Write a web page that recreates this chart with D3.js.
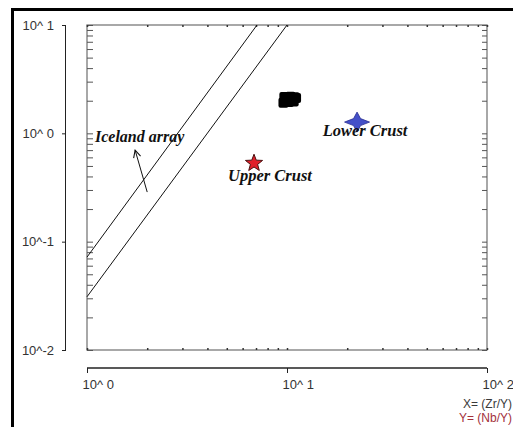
<!DOCTYPE html>
<html>
<head>
<meta charset="utf-8">
<script src="https://cdn.jsdelivr.net/npm/d3@7"></script>
<style>
  html, body { margin: 0; padding: 0; background: #fff; overflow: hidden; }
  svg { display: block; }
</style>
</head>
<body>
<svg id="chart" width="513" height="427"></svg>
<script>
// Nb/Y vs Zr/Y discrimination diagram (log-log)
const xTickValues = [1, 10, 100];
const xTickLabels = ["10^ 0", "10^ 1", "10^ 2"];
const yTickValues = [0.01, 0.1, 1, 10];
const yTickLabels = ["10^-2", "10^-1", "10^ 0", "10^ 1"];

// Boundaries of the Iceland array: [Zr/Y, Nb/Y] end points
const icelandUpper = [[1, 0.072], [7.08, 10]];
const icelandLower = [[1, 0.031], [10, 10]];

// Arrow pointing at the array label: [Zr/Y, Nb/Y]
const icelandArrow = [[2.0, 0.287], [1.74, 0.70]];
const icelandLabel = { text: "Iceland array", zr_y: 1.096, nb_y: 0.83 };

// Sample compositions [Zr/Y, Nb/Y]
const samplesZrY = [9.6, 9.8, 10.0, 10.2, 10.4, 10.6, 10.9, 11.1, 9.7, 10.3, 10.8];
const samplesNbY = [1.92, 2.05, 2.12, 1.95, 2.18, 2.02, 2.15, 2.12, 2.16, 2.08, 1.97];

// Crustal reference compositions
const crustNames = ["Upper Crust", "Lower Crust"];
const crustZrY = [6.84, 22.4];
const crustNbY = [0.53, 1.27];

const svg = d3.select("#chart");

const x = d3.scaleLog().domain([1, 100]).range([87, 487]);
const y = d3.scaleLog().domain([0.01, 10]).range([350, 25]);

// outer frame (top and left heavy rules)
svg.append("rect").attr("x", 11).attr("y", 8).attr("width", 502).attr("height", 3).attr("fill", "#000");
svg.append("rect").attr("x", 11).attr("y", 8).attr("width", 3).attr("height", 419).attr("fill", "#000");

// minor tick values
const minor = [];
for (const d of [1, 10]) for (let k = 1; k <= 9; k++) minor.push(d * k);
minor.push(100);
const minorY = [];
for (const d of [0.01, 0.1, 1]) for (let k = 1; k <= 9; k++) minorY.push(d * k);
minorY.push(10);

const plot = svg.append("g");

// plot box
plot.append("rect")
  .attr("x", x(1)).attr("y", y(10))
  .attr("width", x(100) - x(1)).attr("height", y(0.01) - y(10))
  .attr("fill", "none").attr("stroke", "#7a7a7a").attr("stroke-width", 1.3);

// inward ticks on the left and right of the box
plot.append("g").call(d3.axisRight(y).tickValues(minorY).tickSize(6).tickFormat(""))
  .attr("transform", `translate(${x(1)},0)`)
  .call(g => g.select(".domain").remove())
  .call(g => g.selectAll("line").attr("stroke", "#555"));
plot.append("g").call(d3.axisLeft(y).tickValues(minorY).tickSize(5).tickFormat(""))
  .attr("transform", `translate(${x(100)},0)`)
  .call(g => g.select(".domain").remove())
  .call(g => g.selectAll("line").attr("stroke", "#555"));
// small ticks on top and bottom of the box
plot.append("g").call(d3.axisBottom(x).tickValues(minor).tickSize(2).tickFormat(""))
  .attr("transform", `translate(0,${y(10)})`)
  .call(g => g.select(".domain").remove())
  .call(g => g.selectAll("line").attr("stroke", "#333").attr("stroke-width", 1.5));
plot.append("g").call(d3.axisTop(x).tickValues(minor).tickSize(2).tickFormat(""))
  .attr("transform", `translate(0,${y(0.01)})`)
  .call(g => g.select(".domain").remove())
  .call(g => g.selectAll("line").attr("stroke", "#333").attr("stroke-width", 1.5));

// outer labelled Y axis
const yAxis = svg.append("g")
  .attr("transform", "translate(66,0)")
  .call(d3.axisLeft(y).tickValues(yTickValues).tickSize(4)
    .tickFormat((d, i) => yTickLabels[i]));
yAxis.select(".domain").attr("stroke", "#222").attr("d", `M-0.5,${y(10)}V${y(0.01)}`);
yAxis.selectAll("line").attr("stroke", "#222");
yAxis.selectAll("text")
  .attr("x", -12)
  .attr("font-family", "Liberation Sans, Arial, sans-serif")
  .attr("font-size", 13).attr("fill", "#333");

// outer labelled X axis
const xAxis = svg.append("g")
  .attr("transform", "translate(0,368)")
  .call(d3.axisBottom(x).tickValues(xTickValues).tickSize(5)
    .tickFormat((d, i) => xTickLabels[i]));
xAxis.select(".domain").attr("stroke", "#222").attr("stroke-width", 1.3).attr("d", `M${x(1)},0H${x(100)}`);
xAxis.selectAll("line").attr("stroke", "#222");
xAxis.selectAll("text")
  .attr("text-anchor", "start").attr("x", -5).attr("y", 12)
  .attr("font-family", "Liberation Sans, Arial, sans-serif")
  .attr("font-size", 13).attr("fill", "#333");

// variable labels
svg.append("text").attr("x", 512).attr("y", 408).attr("text-anchor", "end")
  .attr("font-family", "Liberation Sans, Arial, sans-serif").attr("font-size", 12)
  .attr("fill", "#3a3a3a").text("X= (Zr/Y)");
svg.append("text").attr("x", 512).attr("y", 422).attr("text-anchor", "end")
  .attr("font-family", "Liberation Sans, Arial, sans-serif").attr("font-size", 12)
  .attr("fill", "#a3303a").text("Y= (Nb/Y)");

// Iceland array boundaries
const line = d3.line().x(d => x(d[0])).y(d => y(d[1]));
plot.selectAll("path.iceland").data([icelandUpper, icelandLower]).join("path")
  .attr("class", "iceland").attr("d", line)
  .attr("fill", "none").attr("stroke", "#111").attr("stroke-width", 1);

// arrow
svg.append("defs").append("marker")
  .attr("id", "arrowhead").attr("viewBox", "0 0 10 10")
  .attr("refX", 9).attr("refY", 5).attr("markerWidth", 9).attr("markerHeight", 9)
  .attr("orient", "auto-start-reverse").attr("markerUnits", "userSpaceOnUse")
  .append("path").attr("d", "M1,1L9,5L1,9").attr("fill", "none").attr("stroke", "#111").attr("stroke-width", 1.2);
plot.append("path").attr("d", line(icelandArrow))
  .attr("fill", "none").attr("stroke", "#111").attr("stroke-width", 1)
  .attr("marker-end", "url(#arrowhead)");

const serifBold = "Liberation Serif, Times New Roman, serif";
plot.append("text")
  .attr("x", x(icelandLabel.zr_y)).attr("y", y(icelandLabel.nb_y))
  .attr("font-family", serifBold).attr("font-weight", "bold").attr("font-style", "italic")
  .attr("font-size", 16).attr("fill", "#111").text(icelandLabel.text);

// samples
plot.selectAll("rect.sample").data(samplesZrY).join("rect")
  .attr("class", "sample")
  .attr("x", (d) => x(d) - 5).attr("y", (d, i) => y(samplesNbY[i]) - 5)
  .attr("width", 10).attr("height", 10).attr("rx", 2)
  .attr("fill", "#000");

// crust reference markers
const star5 = (r, ri) => {
  const pts = [];
  for (let i = 0; i < 10; i++) {
    const a = -Math.PI / 2 + i * Math.PI / 5;
    const rr = i % 2 === 0 ? r : ri;
    pts.push([rr * Math.cos(a), rr * Math.sin(a)]);
  }
  return "M" + pts.map(p => p.join(",")).join("L") + "Z";
};
const star4 = (rx, ry, ri) => {
  const pts = [[0, -ry], [ri, -ri], [rx, 0], [ri, ri], [0, ry], [-ri, ri], [-rx, 0], [-ri, -ri]];
  return "M" + pts.map(p => p.join(",")).join("L") + "Z";
};

const upper = plot.append("g").attr("transform", `translate(${x(crustZrY[0])},${y(crustNbY[0])})`);
upper.append("path").attr("d", star5(9, 3.8)).attr("fill", "#e0202a").attr("stroke", "#4a1010").attr("stroke-width", 1);
upper.append("text").attr("x", 16).attr("y", 18).attr("text-anchor", "middle")
  .attr("font-family", serifBold).attr("font-weight", "bold").attr("font-style", "italic")
  .attr("font-size", 16.5).attr("fill", "#111").text(crustNames[0]);

const lower = plot.append("g").attr("transform", `translate(${x(crustZrY[1])},${y(crustNbY[1])})`);
lower.append("path").attr("d", star4(12.5, 10, 3.5)).attr("fill", "#4450c8").attr("stroke", "#2a2f90").attr("stroke-width", 0.8);
lower.append("text").attr("x", 8).attr("y", 14).attr("text-anchor", "middle")
  .attr("font-family", serifBold).attr("font-weight", "bold").attr("font-style", "italic")
  .attr("font-size", 16.5).attr("fill", "#111").text(crustNames[1]);
</script>
</body>
</html>
